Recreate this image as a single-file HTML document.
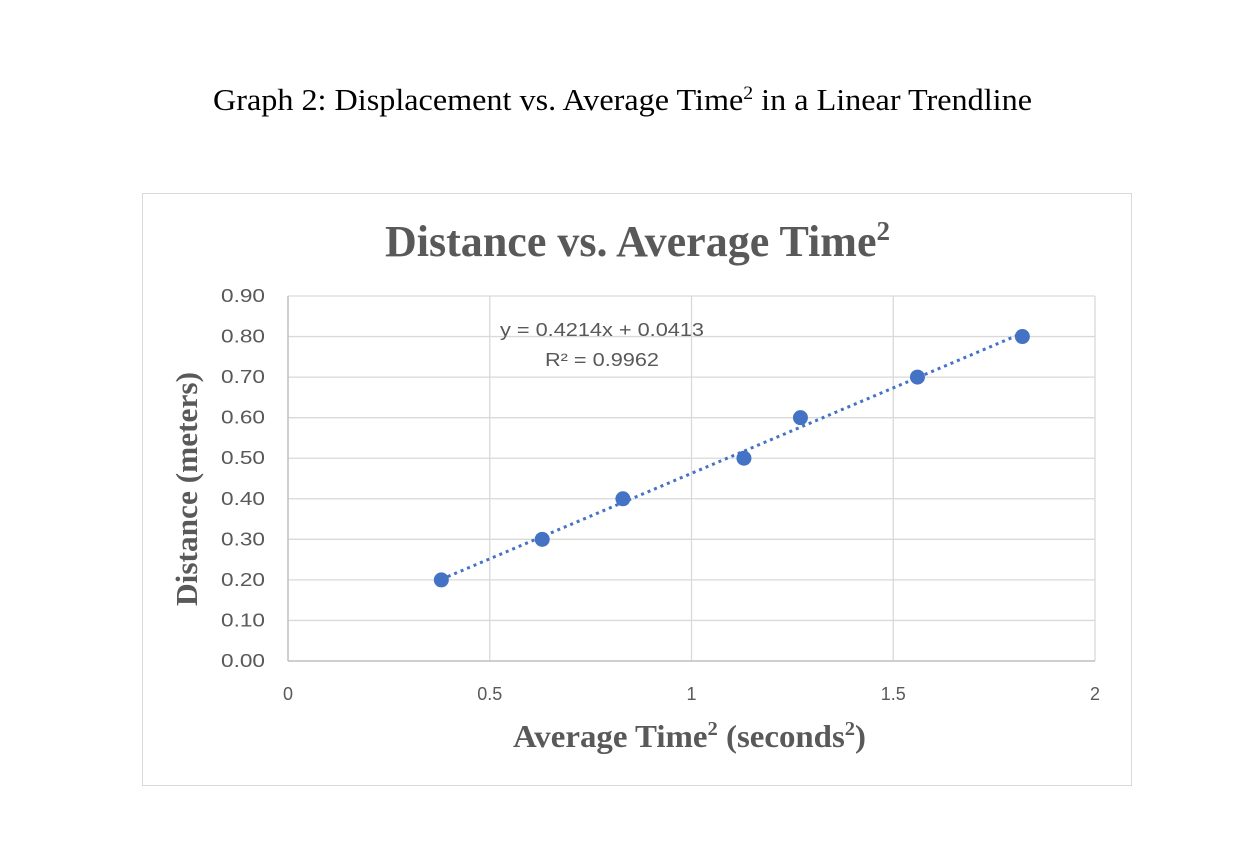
<!DOCTYPE html>
<html><head><meta charset="utf-8"><style>
body{margin:0;background:#fff;width:1238px;height:864px;overflow:hidden}
svg{display:block}
</style></head><body>
<svg width="1238" height="864" xmlns="http://www.w3.org/2000/svg">
<text x="213" y="110" textLength="819" lengthAdjust="spacingAndGlyphs" font-family="Liberation Serif, serif" font-size="31" fill="#000">Graph 2: Displacement vs. Average Time<tspan font-size="19" dy="-11">2</tspan><tspan dy="11"> in a Linear Trendline</tspan></text>
<rect x="142.5" y="193.5" width="989" height="592" fill="#fff" stroke="#d9d9d9"/>
<text x="385" y="256" textLength="505" lengthAdjust="spacingAndGlyphs" font-family="Liberation Serif, serif" font-weight="bold" font-size="44" fill="#595959">Distance vs. Average Time<tspan font-size="27" dy="-16">2</tspan></text>
<g id="grid"></g>
<g id="axes"></g>
<text x="513" y="747" textLength="353" lengthAdjust="spacingAndGlyphs" font-family="Liberation Serif, serif" font-weight="bold" font-size="32" fill="#595959">Average Time<tspan font-size="20" dy="-12">2</tspan><tspan dy="12"> (seconds</tspan><tspan font-size="20" dy="-12">2</tspan><tspan dy="12">)</tspan></text>
<text transform="translate(197,489) rotate(-90)" text-anchor="middle" textLength="234" lengthAdjust="spacingAndGlyphs" font-family="Liberation Serif, serif" font-weight="bold" font-size="31" fill="#595959">Distance (meters)</text>
<g id="trend"></g>
<g id="pts"></g>
<text x="500" y="336" textLength="204" lengthAdjust="spacingAndGlyphs" font-family="Liberation Sans, sans-serif" font-size="18" fill="#595959">y = 0.4214x + 0.0413</text>
<text x="545" y="366" textLength="114" lengthAdjust="spacingAndGlyphs" font-family="Liberation Sans, sans-serif" font-size="18" fill="#595959">R² = 0.9962</text>
</svg>
<script>
const xVals=[0.38,0.63,0.83,1.13,1.27,1.56,1.82];
const yVals=[0.2,0.3,0.4,0.5,0.6,0.7,0.8];
const xTicks=[0,0.5,1,1.5,2];
const xTickLabels=["0","0.5","1","1.5","2"];
const yTicks=[0,0.1,0.2,0.3,0.4,0.5,0.6,0.7,0.8,0.9];
const yTickLabels=["0.00","0.10","0.20","0.30","0.40","0.50","0.60","0.70","0.80","0.90"];
const slope=0.4214, intercept=0.0413;
const NS="http://www.w3.org/2000/svg";
const X=v=>288+v/2*807, Y=v=>661-v/0.9*365;
function mk(tag,attrs,parent){const e=document.createElementNS(NS,tag);for(const k in attrs)e.setAttribute(k,attrs[k]);document.getElementById(parent).appendChild(e);return e;}
yTicks.forEach((t,i)=>{
 if(t>0){const l=mk('line',{x1:288,x2:1095,y1:Y(t),y2:Y(t),stroke:'#d9d9d9','stroke-width':1.3},'grid');
 
 }
 const tx=mk('text',{x:265,y:Y(t)+6,'text-anchor':'end',textLength:44,lengthAdjust:'spacingAndGlyphs','font-family':'Liberation Sans, sans-serif','font-size':18,fill:'#595959'},'axes');
 tx.textContent=yTickLabels[i];
 
 
});
xTicks.forEach((t,i)=>{
 if(t>0){const l=mk('line',{x1:X(t),x2:X(t),y1:Y(0.9),y2:Y(0),stroke:'#d9d9d9','stroke-width':1.3},'grid');
 
 }
 const tx=mk('text',{x:X(t),y:700,'text-anchor':'middle','font-family':'Liberation Sans, sans-serif','font-size':18,fill:'#595959'},'axes');
 tx.textContent=xTickLabels[i];
 
 
});
const xa=mk('line',{x1:288,x2:1095,y1:Y(0),y2:Y(0),stroke:'#bfbfbf','stroke-width':1.5},'axes');


const ya=mk('line',{x1:288,x2:288,y1:Y(0.9),y2:Y(0),stroke:'#bfbfbf','stroke-width':1.5},'axes');


const x0=Math.min(...xVals), x1=Math.max(...xVals);
const tl=mk('line',{x1:X(x0),y1:Y(slope*x0+intercept),x2:X(x1),y2:Y(slope*x1+intercept),stroke:'#4472c4','stroke-width':3,'stroke-dasharray':'3 4'},'trend');


xVals.forEach((v,i)=>{
 const c=mk('circle',{cx:X(v),cy:Y(yVals[i]),r:7.5,fill:'#4472c4'},'pts');
 
 
});
</script>
</body></html>
